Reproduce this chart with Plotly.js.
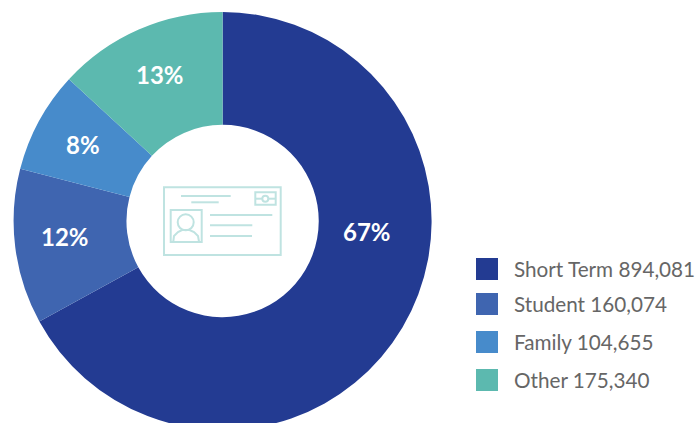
<!DOCTYPE html>
<html><head><meta charset="utf-8">
<script src="https://cdn.plot.ly/plotly-3.0.1.min.js"></script>
<style>html,body{margin:0;padding:0;background:#fff;overflow:hidden;width:698px;height:423px}#c{width:698px;height:440px}</style>
</head><body><div id="c"></div>
<script>
var categories=["Short Term","Student","Family","Other"];
var values=[894081,160074,104655,175340];
var valueLabels=["894,081","160,074","104,655","175,340"];
var percents=["67%","12%","8%","13%"];
var colors=["#233B92","#3F65B0","#478BCB","#5CB9AF"];
var W=698,H=440;
function px(x){return x/W} function py(y){return 1-y/H}
var pctPos=[[367,232],[65,236],[83,144],[160,74]];
var legendY=[269,304,342,380];
var ink="#BFE3E1";
var annotations=percents.map(function(p,i){return {xref:"paper",yref:"paper",x:px(pctPos[i][0]),y:py(pctPos[i][1]),text:"<b>"+p+"</b>",showarrow:false,xanchor:"center",yanchor:"middle",font:{family:"Lato",size:24,color:"#fff"}}})
.concat(categories.map(function(c,i){return {xref:"paper",yref:"paper",x:px(512),y:py(legendY[i]),text:c+" "+valueLabels[i],showarrow:false,xanchor:"left",yanchor:"middle",font:{family:"Lato",size:20.7,color:"#666"}}}));
var shapes=colors.map(function(c,i){return {type:"rect",xref:"paper",yref:"paper",x0:px(476),x1:px(498),y0:py(legendY[i]-11),y1:py(legendY[i]+11),fillcolor:c,line:{width:0}}});
function S(o){o.xref="paper";o.yref="paper";o.line={color:ink,width:2};shapes.push(o)}
function R(a,b,c,d){S({type:"rect",x0:px(a),x1:px(c),y0:py(b),y1:py(d)})}
function L(a,b,c){S({type:"line",x0:px(a),x1:px(c),y0:py(b),y1:py(b)})}
function C(x,y,r){S({type:"circle",x0:px(x-r),x1:px(x+r),y0:py(y-r),y1:py(y+r)})}
function P(pts){S({type:"path",path:"M"+pts.map(function(p){return px(p[0])+","+py(p[1])}).join(" L")})}
R(164,187.3,280.7,255);
L(181,196,230.7);L(191.3,202.3,218.7);
R(255.3,192.3,275.7,204.7);L(255.3,198.7,262.3);L(268.3,198.7,275.7);C(265.3,198.7,3);
R(170.7,210,201.7,242);C(185.7,222.3,8);
P([[173.3,241.5],[174,236],[178,232],[182,230],[189.5,230],[194,232],[198,236],[199,241.5]]);
L(210,215,272.3);L(210,225.3,252.3);L(210,236,252);
Plotly.newPlot("c",[{type:"pie",labels:categories,values:values,sort:false,direction:"clockwise",rotation:0,hole:0.46,textinfo:"none",hoverinfo:"label+value",marker:{colors:colors,line:{width:0}},domain:{x:[px(13.6),px(431.6)],y:[py(430),py(12)]},showlegend:false}],
{width:W,height:H,margin:{l:0,r:0,t:0,b:0},paper_bgcolor:"#fff",showlegend:false,annotations:annotations,shapes:shapes},{displayModeBar:false,staticPlot:true});
</script></body></html>
